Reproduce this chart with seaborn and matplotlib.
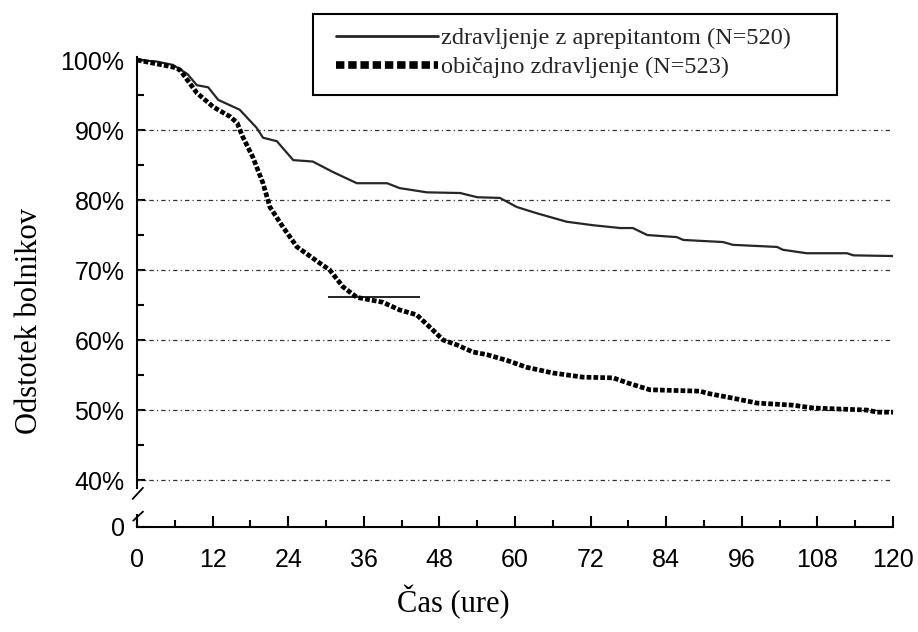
import matplotlib
matplotlib.use('Agg')
import matplotlib.pyplot as plt
import seaborn as sns
import pandas as pd
from matplotlib.patches import Rectangle
from matplotlib.ticker import FixedLocator, MultipleLocator

# ---- data ----
apr_t = [0, 3, 5.7, 8, 9.5, 11.3, 12.9, 16.3, 19, 20, 22.2, 24.8, 27.9, 31.1, 34.9, 39.7,
         41.7, 46, 51.3, 54, 57.6, 60.3, 63.5, 68.2, 72.4, 76.7, 78.7, 81, 85.7, 86.7, 93,
         94.6, 101.6, 102.5, 106.3, 112.7, 113.7, 120]
apr_p = [100, 99.8, 99.3, 98, 96.4, 96.1, 94.3, 92.9, 90.3, 88.9, 88.4, 85.7, 85.5, 84, 82.4, 82.4,
         81.7, 81.1, 81.0, 80.4, 80.3, 79, 78.1, 76.9, 76.4, 76.0, 76.0, 75.0, 74.7, 74.3, 74.0,
         73.6, 73.3, 72.9, 72.4, 72.4, 72.1, 72.0]
std_t = [0, 5.7, 6.8, 9.5, 12.1, 14.8, 15.9, 16.8, 18.4, 20, 21.1, 23.2, 25.4, 29, 30.6, 32.7,
         34.9, 39, 41.7, 44.4, 47, 48.6, 50.8, 53.3, 55.6, 58.7, 61.9, 66, 70.8, 75.6, 77.8,
         81.4, 89.4, 90.5, 94.6, 98.4, 104.1, 107.3, 115.9, 117.5, 120]
std_p = [100, 99, 98.6, 95.3, 93.3, 91.9, 91, 89, 86.1, 82.4, 79, 76.1, 73.3, 71, 70, 67.6,
         66.1, 65.4, 64.3, 63.6, 61.4, 60, 59.3, 58.3, 57.9, 57.1, 56.1, 55.3, 54.7, 54.6, 53.9,
         52.9, 52.7, 52.4, 51.7, 51.0, 50.7, 50.3, 50.0, 49.7, 49.7]
median_t = [30.3, 44.9]
median_p = 66.1
series_labels = ['zdravljenje z aprepitantom (N=520)', 'običajno zdravljenje (N=523)']
y_ticks = [40, 50, 60, 70, 80, 90, 100]
y_tick_labels = ['40%', '50%', '60%', '70%', '80%', '90%', '100%']
x_ticks = [0, 12, 24, 36, 48, 60, 72, 84, 96, 108, 120]
Y0 = 33.3  # display position of "0" on the broken axis

df_apr = pd.DataFrame({'t': apr_t, 'p': apr_p})
df_std = pd.DataFrame({'t': std_t, 'p': std_p})

sns.set_theme(style='white')
plt.rcParams['font.family'] = ['Liberation Sans', 'DejaVu Sans']
SERIF = ['Liberation Serif', 'DejaVu Serif']

fig = plt.figure(figsize=(9.18, 6.32), dpi=100)
ax = fig.add_axes([137 / 918, 1 - 527 / 632, 756 / 918, (527 - 57.2) / 632])

# gridlines
ax.hlines(y_ticks[:-1], 0, 120, colors='#333333', linestyles=[(0, (3.5, 2.5, 1, 2.5))],
          linewidth=0.9, zorder=1)

sns.lineplot(data=df_apr, x='t', y='p', ax=ax, color='#262626', linewidth=1.6,
             legend=False, zorder=3)
sns.lineplot(data=df_std, x='t', y='p', ax=ax, color='black', linewidth=3.4,
             linestyle=(0, (1.0, 0.45)), legend=False, zorder=3)
ax.hlines(median_p, median_t[0], median_t[1], colors='black', linewidth=1.2, zorder=4)

ax.set_xlim(0, 120)
ax.set_ylim(Y0, 100.4)

# spines
for s in ['top', 'right']:
    ax.spines[s].set_visible(False)
for s in ['left', 'bottom']:
    ax.spines[s].set_color('black')
    ax.spines[s].set_linewidth(1.5)
ax.spines['left'].set_bounds(38.8, 100.4)
# broken-axis pieces
ax.plot([0, 0], [Y0, 35.1], color='black', lw=1.5, clip_on=False, solid_capstyle='butt')
ax.plot([0.95, -0.7], [38.9, 37.3], color='black', lw=1.3, clip_on=False)
ax.plot([-0.6, 0.95], [34.2, 35.5], color='black', lw=1.3, clip_on=False)

# ticks
ax.set_yticks([Y0] + y_ticks)
ax.set_yticklabels(['0'] + y_tick_labels)
ax.yaxis.set_minor_locator(FixedLocator([45, 55, 65, 75, 85, 95]))
ax.set_xticks(x_ticks)
ax.set_xticklabels([str(v) for v in x_ticks])
ax.xaxis.set_minor_locator(MultipleLocator(6))
ax.tick_params(axis='both', which='both', direction='in', color='black', width=1.5,
               labelcolor='black', labelsize=18)
ax.tick_params(axis='y', which='major', length=6, pad=9, left=True)
ax.tick_params(axis='y', which='minor', length=5, left=True)
ax.tick_params(axis='x', which='major', length=8, pad=15, bottom=True)
ax.tick_params(axis='x', which='minor', length=5, bottom=True)

ax.set_xlabel('Čas (ure)', fontfamily=SERIF, fontsize=22, color='black')
ax.xaxis.set_label_coords(0.419, -0.124)
ax.set_ylabel('Odstotek bolnikov', fontfamily=SERIF, fontsize=22, color='black')
ax.yaxis.set_label_coords(-0.123, 0.4385)

# legend
rect = Rectangle((313 / 918, 1 - 95 / 632), (837 - 313) / 918, (95 - 14) / 632,
                 transform=fig.transFigure, facecolor='white', edgecolor='black',
                 linewidth=1.5, zorder=3)
fig.add_artist(rect)
handles = ax.get_lines()[:2]
leg = fig.legend(handles, series_labels, loc='upper left',
                 bbox_to_anchor=(336 / 918, 1 - 27 / 632), frameon=False,
                 prop={'family': SERIF, 'size': 17.5}, handlelength=4.2,
                 handletextpad=0.12, borderaxespad=0, borderpad=0, labelspacing=0.3)
leg.set_zorder(5)
lh = leg.get_lines()
lh[0].set_linewidth(2.0)
lh[1].set_linewidth(5.5)
lh[1].set_linestyle((0, (1.1, 0.5)))

fig.savefig('out.png', dpi=100)
